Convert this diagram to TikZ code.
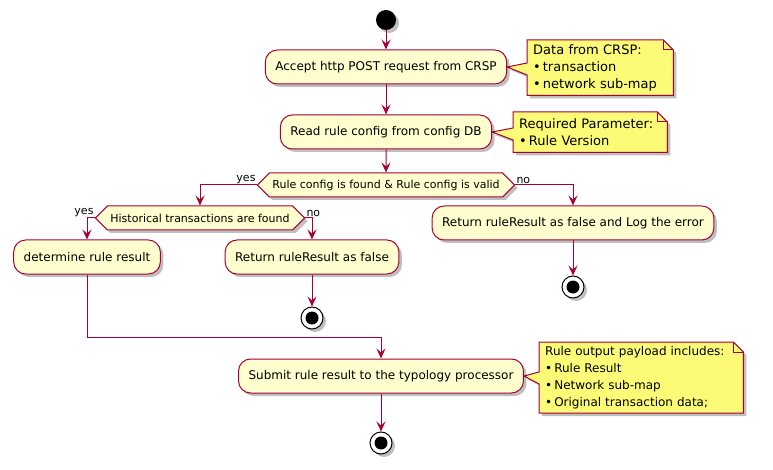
\documentclass[tikz,border=0pt]{standalone}
\usepackage{fontspec}
\setmainfont{DejaVu Sans}
\usetikzlibrary{arrows.meta,shapes.symbols,shadows,backgrounds}
\definecolor{umlred}{HTML}{A80036}
\definecolor{actfill}{HTML}{FEFECE}
\definecolor{notefill}{HTML}{FBFB77}
\tikzset{
  umlshadow/.style={drop shadow={shadow xshift=3pt,shadow yshift=-3pt,fill=black,opacity=0.25}},
  act/.style={draw=umlred,fill=actfill,line width=1pt,rounded corners=12pt,
    minimum height=34pt,inner xsep=10pt,font=\fontsize{12}{14}\selectfont,umlshadow},
  cond/.style={signal,signal to=east and west,signal pointer angle=90,draw=umlred,
    fill=actfill,line width=1pt,minimum height=24pt,inner xsep=3pt,
    font=\fontsize{11}{13}\selectfont,umlshadow},
  startdot/.style={circle,fill=black,minimum size=20pt,inner sep=0pt,umlshadow},
  stopdot/.style={circle,draw=black,fill=white,line width=1pt,minimum size=22pt,inner sep=0pt,umlshadow,
    path picture={\fill[black] (path picture bounding box.center) circle[radius=6.5pt];}},
  flow/.style={draw=umlred,line width=1pt,-{Stealth[length=10pt,width=9pt,inset=4pt]}},
  lbl/.style={font=\fontsize{11}{13}\selectfont,inner sep=1pt},
  notetxt/.style={align=left,font=\fontsize{13}{15}\selectfont,inner xsep=6pt,inner ysep=4pt},
  notebox/.style={draw=umlred,fill=notefill,line width=1pt,umlshadow}
}
\newcommand\bul{\kern2pt\textbullet\kern2pt}
% note with folded corner and a pointer towards #2
\newcommand\umlnote[2]{%
  \draw[notebox] (#1.south west) -- ([yshift=-8pt]#1.west |- #2) -- (#2)
    -- ([yshift=4pt]#1.west |- #2) -- (#1.north west) -- ([xshift=-10pt]#1.north east)
    -- ([yshift=-10pt]#1.north east) -- (#1.south east) -- cycle;
  \draw[umlred,line width=1pt] ([xshift=-10pt]#1.north east) -- ([xshift=-10pt,yshift=-10pt]#1.north east)
    -- ([yshift=-10pt]#1.north east);}
\begin{document}
\begin{tikzpicture}[x=1pt,y=-1pt]
\useasboundingbox (0,0) rectangle (773,470);
% main flow
\node[startdot] (start) at (386,20) {};
\node[act] (accept) at (386,67) {Accept http POST request from CRSP};
\node[act] (readcfg) at (386,132) {Read rule config from config DB};
\node[cond] (valid) at (386,185) {Rule config is found \& Rule config is valid};
\node[cond] (hist) at (200,218) {Historical transactions are found};
\node[act] (determine) at (87,257) {determine rule result};
\node[act] (retfalse) at (312,257) {Return ruleResult as false};
\node[stopdot] (stopA) at (312,318) {};
\node[act] (retlog) at (573,223) {Return ruleResult as false and Log the error};
\node[stopdot] (stopB) at (573,287) {};
\node[act] (submit) at (381,376) {Submit rule result to the typology processor};
\node[stopdot] (stopC) at (381,443) {};
\coordinate (merge) at (87,337);
% notes
\node[notetxt,anchor=north west,text width=134pt,minimum height=55pt] (noteA) at (527,40)
  {Data from CRSP:\\ \bul transaction\\ \bul network sub-map};
\node[notetxt,anchor=north west,text width=142pt,minimum height=40pt] (noteB) at (513,112)
  {Required Parameter:\\ \bul Rule Version};
\node[notetxt,font=\fontsize{12}{15}\selectfont,anchor=north west,text width=192pt,minimum height=70pt] (noteC) at (539,342)
  {\mbox{Rule output payload includes:}\\ \bul Rule Result\\ \bul Network sub-map\\ \bul Original transaction data;};
\begin{scope}[on background layer]
\umlnote{noteA}{accept.east}
\umlnote{noteB}{readcfg.east}
\umlnote{noteC}{submit.east}
\end{scope}
% connectors
\draw[flow] (start) -- (accept);
\draw[flow] (accept) -- (readcfg);
\draw[flow] (readcfg) -- (valid);
\draw[flow] (valid.west) -| (hist.north);
\draw[flow] (valid.east) -| (retlog.north);
\draw[flow] (hist.west) -| (determine.north);
\draw[flow] (hist.east) -| (retfalse.north);
\draw[flow] (retfalse) -- (stopA);
\draw[flow] (retlog) -- (stopB);
\draw[flow] (determine.south) -- (merge) -| (submit.north);
\draw[flow] (submit) -- (stopC);
% branch labels
\node[lbl,anchor=south east] (yesA) at (valid.west) {yes};
\node[lbl,anchor=south west] (noA) at (valid.east) {no};
\node[lbl,anchor=south east] (yesB) at (hist.west) {yes};
\node[lbl,anchor=south west] (noB) at (hist.east) {no};
\end{tikzpicture}
\end{document}
